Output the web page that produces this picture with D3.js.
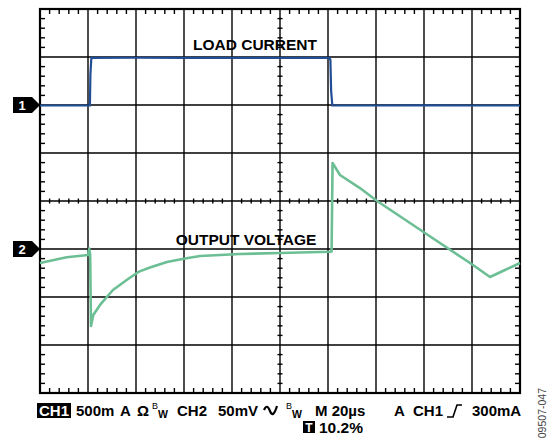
<!DOCTYPE html>
<html>
<head>
<meta charset="utf-8">
<script src="https://cdn.jsdelivr.net/npm/d3@7"></script>
<style>
  html, body { margin: 0; padding: 0; background: #fff; }
  svg { display: block; font-family: "Liberation Sans", Arial, Helvetica, sans-serif; }
</style>
</head>
<body>
<svg id="scope" width="549" height="439"></svg>
<script>
/* ---- scope data (time in µs, 20 µs/div) ---- */
const currentT  = [0, 20.8, 21.0, 21.4, 40, 60, 80, 100, 120.6, 121.0, 121.3, 121.8, 140, 160, 180, 200];
const currentMA = [-5, -5, 320, 490, 492, 490, 491, 490, 490, 470, 150, -5, -5, -4, -5, -5];

const voltageT  = [0, 11.1, 20.0, 20.5, 20.9, 21.25, 22.2, 25.0, 30.4, 36.1, 41.25, 45.8, 52.9, 60.4,
                   66.7, 83.3, 100, 120.8, 121.5, 121.9, 125.0, 133.3, 140.3, 160.4, 180.4, 187.5, 193.75, 200];
const voltageMV = [-14.6, -8.6, -6.3, 0.5, -6, -80.2, -68.8, -58.3, -42.7, -32.3, -23.6, -19.3, -13.5, -9.9,
                   -7.3, -5.2, -4.2, -2.8, -2.6, 89.6, 77.1, 63.5, 50.3, 16.7, -16.7, -29.2, -21.9, -14.6];

const divTimes  = d3.range(0, 201, 20);     // 10 horizontal divisions
const ch1Range  = [-3000, 1000];            // 500 mA/div, ref marker 2 div from top
const ch2Range  = [-150, 250];              // 50 mV/div, ref marker 5 div from top

const traceLabels = ['LOAD CURRENT', 'OUTPUT VOLTAGE'];

const svg = d3.select('#scope');
const L = 40, R = 520, T = 9, B = 393;

const x  = d3.scaleLinear().domain([0, 200]).range([L, R]);
const y1 = d3.scaleLinear().domain(ch1Range).range([B, T]);
const y2 = d3.scaleLinear().domain(ch2Range).range([B, T]);
const yDiv = d3.scaleLinear().domain([0, 8]).range([T, B]);

// ---- grid ----
const grid = svg.append('g').attr('stroke', '#000').attr('stroke-width', 1.4);
grid.selectAll('line.v').data(divTimes.slice(1, -1)).join('line')
  .attr('x1', d => x(d)).attr('x2', d => x(d)).attr('y1', T).attr('y2', B);
grid.selectAll('line.h').data(d3.range(1, 8)).join('line')
  .attr('y1', d => yDiv(d)).attr('y2', d => yDiv(d)).attr('x1', L).attr('x2', R);

// minor ticks (5 per division)
const minorX = d3.range(0, 201, 4).filter(v => v % 20 !== 0);
const minorY = d3.range(0, 8.01, 0.2).filter(v => Math.abs(v - Math.round(v)) > 0.01);
const ticks = svg.append('g').attr('stroke', '#000').attr('stroke-width', 1.4);
minorX.forEach(v => {
  ticks.append('line').attr('x1', x(v)).attr('x2', x(v)).attr('y1', T).attr('y2', T + 5);
  ticks.append('line').attr('x1', x(v)).attr('x2', x(v)).attr('y1', B - 5).attr('y2', B);
  ticks.append('line').attr('x1', x(v)).attr('x2', x(v)).attr('y1', yDiv(4) - 2.5).attr('y2', yDiv(4) + 2.5);
});
minorY.forEach(v => {
  ticks.append('line').attr('y1', yDiv(v)).attr('y2', yDiv(v)).attr('x1', L).attr('x2', L + 5);
  ticks.append('line').attr('y1', yDiv(v)).attr('y2', yDiv(v)).attr('x1', R - 5).attr('x2', R);
  ticks.append('line').attr('y1', yDiv(v)).attr('y2', yDiv(v)).attr('x1', x(100) - 2.5).attr('x2', x(100) + 2.5);
});

svg.append('rect')
  .attr('x', L).attr('y', T).attr('width', R - L).attr('height', B - T)
  .attr('fill', 'none').attr('stroke', '#000').attr('stroke-width', 2.2);

// ---- traces ----
const ch1Line = d3.line().x((d, i) => x(currentT[i])).y(d => y1(d));
const ch2Line = d3.line().x((d, i) => x(voltageT[i])).y(d => y2(d));

svg.append('path').attr('d', ch2Line(voltageMV))
  .attr('fill', 'none').attr('stroke', '#6cbf94').attr('stroke-width', 2.6)
  .attr('stroke-linejoin', 'round');
svg.append('path').attr('d', ch1Line(currentMA))
  .attr('fill', 'none').attr('stroke', '#214e95').attr('stroke-width', 2.2);

// ---- labels ----
svg.append('text').attr('x', 255).attr('y', 50).attr('text-anchor', 'middle')
  .attr('font-size', 15.5).attr('font-weight', 'bold').text(traceLabels[0]);
svg.append('text').attr('x', 246).attr('y', 245).attr('text-anchor', 'middle')
  .attr('font-size', 15.5).attr('font-weight', 'bold').text(traceLabels[1]);

// ---- channel reference markers ----
[[y1(0), '1'], [y2(0), '2']].forEach(([yy, lbl]) => {
  svg.append('path')
    .attr('d', `M13,${yy - 8} L32,${yy - 8} L40,${yy} L32,${yy + 8} L13,${yy + 8} Z`)
    .attr('fill', '#000');
  svg.append('text').attr('x', 22).attr('y', yy + 4.5).attr('text-anchor', 'middle')
    .attr('fill', '#fff').attr('font-size', 13).attr('font-weight', 'bold').text(lbl);
});

// ---- status line ----
const base1 = 416, base2 = 433;
const st = svg.append('g').attr('font-weight', 'bold').attr('fill', '#000');
st.append('rect').attr('x', 37).attr('y', 403).attr('width', 34).attr('height', 15).attr('fill', '#000');
st.append('text').attr('x', 54).attr('y', base1).attr('text-anchor', 'middle')
  .attr('fill', '#fff').attr('font-size', 15).text('CH1');

const tokens = [
  ['500m', 76], ['A', 120], ['Ω', 137], ['CH2', 177], ['50mV', 218], ['M 20µs', 315],
  ['A', 394], ['CH1', 413], ['300mA', 472]
];
tokens.forEach(([t, xx]) => {
  st.append('text').attr('x', xx).attr('y', base1).attr('font-size', 15).text(t);
});
// AC coupling wave symbol
st.append('path').attr('d', 'M264,410 Q267,403 270,411 Q273,419 277,406')
  .attr('fill', 'none').attr('stroke', '#000').attr('stroke-width', 2.2);
[152, 286].forEach(xx => {
  st.append('text').attr('x', xx).attr('y', 409).attr('font-size', 9).attr('font-weight', 'normal').text('B');
  st.append('text').attr('x', xx + 6).attr('y', 418).attr('font-size', 10.5).text('W');
});
// trigger slope symbol
st.append('path').attr('d', 'M447,417 L453,417 L457,405 L462,405')
  .attr('fill', 'none').attr('stroke', '#000').attr('stroke-width', 1.6);

st.append('rect').attr('x', 303).attr('y', 421).attr('width', 12).attr('height', 12).attr('fill', '#000');
st.append('text').attr('x', 309).attr('y', 431.5).attr('text-anchor', 'middle')
  .attr('fill', '#fff').attr('font-size', 12).text('T');
st.append('text').attr('x', 319).attr('y', base2).attr('font-size', 15.5).text('10.2%');

svg.append('text')
  .attr('transform', 'translate(546,388) rotate(-90)')
  .attr('text-anchor', 'end').attr('font-size', 10.5).attr('fill', '#444')
  .text('09507-047');
</script>
</body>
</html>
